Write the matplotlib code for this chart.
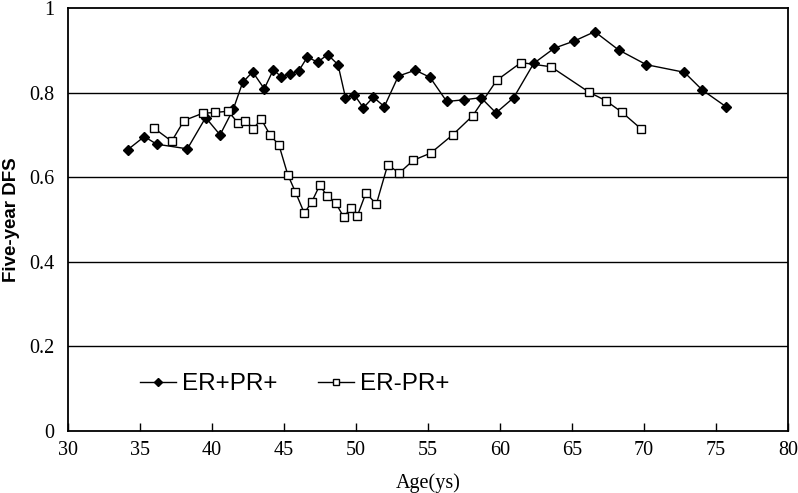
import numpy as np
import matplotlib.pyplot as plt

# ER+PR+ (filled diamonds)
age_pos = [34.15, 35.3, 36.16, 38.29, 39.56, 40.56, 41.48, 42.13, 42.82, 43.63,
           44.26, 44.79, 45.42, 46.02, 46.62, 47.34, 48.03, 48.75, 49.27, 49.88,
           50.51, 51.2, 51.97, 52.94, 54.12, 55.14, 56.3, 57.52, 58.68, 59.72,
           60.95, 62.34, 63.77, 65.16, 66.58, 68.23, 70.16, 72.8, 74.05, 75.72]
dfs_pos = [0.665, 0.696, 0.678, 0.667, 0.741, 0.700, 0.761, 0.824, 0.849, 0.809,
           0.854, 0.838, 0.844, 0.851, 0.884, 0.872, 0.890, 0.866, 0.788, 0.795,
           0.764, 0.789, 0.767, 0.839, 0.853, 0.836, 0.779, 0.783, 0.788, 0.752,
           0.788, 0.869, 0.905, 0.922, 0.944, 0.901, 0.866, 0.848, 0.806, 0.766]

# ER-PR+ (open squares)
age_neg = [35.97, 37.2, 38.06, 39.35, 40.23, 41.13, 41.83, 42.29, 42.87, 43.42,
           44.03, 44.65, 45.26, 45.78, 46.41, 46.92, 47.48, 47.99, 48.59, 49.14,
           49.64, 50.09, 50.69, 51.41, 52.2, 53.01, 53.98, 55.19, 56.71, 58.1,
           59.77, 61.46, 63.54, 66.18, 67.34, 68.45, 69.77]
dfs_neg = [0.716, 0.685, 0.734, 0.751, 0.753, 0.756, 0.727, 0.734, 0.715, 0.737,
           0.700, 0.676, 0.606, 0.566, 0.515, 0.541, 0.581, 0.556, 0.539, 0.506,
           0.526, 0.508, 0.563, 0.536, 0.629, 0.610, 0.640, 0.657, 0.700, 0.745,
           0.829, 0.871, 0.861, 0.801, 0.781, 0.754, 0.715]

xticks = [30, 35, 40, 45, 50, 55, 60, 65, 70, 75, 80]
yticks = [0, 0.2, 0.4, 0.6, 0.8, 1]
ylabels = ['0', '0.2', '0.4', '0.6', '0.8', '1']

fig = plt.figure(figsize=(7.98, 4.93), dpi=100)
ax = fig.add_axes([0.0852, 0.1258, 0.9023, 0.858])

# grid lines
for yv in yticks[1:-1]:
    ax.axhline(yv, color='black', lw=1.0, zorder=1)

ax.plot(age_pos, dfs_pos, color='black', lw=1.0, marker='D', markersize=5.5,
        markerfacecolor='black', markeredgecolor='black', label='ER+PR+', zorder=3)
ax.plot(age_neg, dfs_neg, color='black', lw=1.0, marker='s', markersize=5.5,
        markerfacecolor='white', markeredgecolor='black', markeredgewidth=1.0,
        label='ER-PR+', zorder=3)

ax.set_xlim(30, 80)
ax.set_ylim(0, 1)
ax.set_xticks(xticks)
ax.set_yticks(yticks)
ax.set_yticklabels(ylabels)

for sp in ax.spines.values():
    sp.set_linewidth(1.3)
    sp.set_color('black')

ax.tick_params(axis='x', direction='in', length=6, width=1.0, pad=7)
ax.tick_params(axis='y', length=0, pad=10)
for lab in ax.get_xticklabels() + ax.get_yticklabels():
    lab.set_fontfamily('Liberation Serif')
    lab.set_fontsize(14.5)

ax.set_xlabel('Age(ys)', fontfamily='Liberation Serif', fontsize=14.5)
ax.xaxis.set_label_coords(0.5, -0.1)
ax.set_ylabel('Five-year DFS', fontfamily='Liberation Sans', fontsize=13.5,
              fontweight='bold')
ax.yaxis.set_label_coords(-0.066, 0.5)

ax.legend(loc='center left', bbox_to_anchor=(0.069, 0.11), ncol=2, frameon=False,
          prop={'family': 'Liberation Sans', 'size': 17.5}, markerscale=0.7,
          handlelength=1.5, handletextpad=0.25, columnspacing=1.65)

fig.savefig('out.png', dpi=100)
